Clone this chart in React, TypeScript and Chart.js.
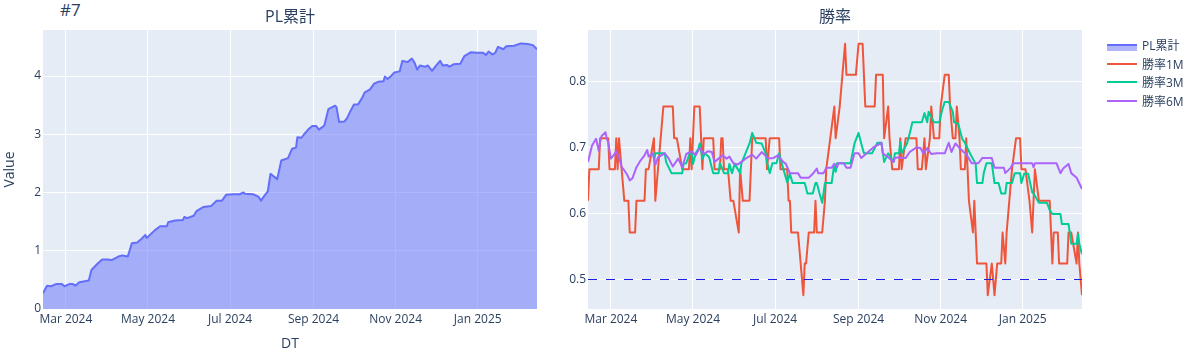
import React, { useEffect, useRef } from "react";
import { Chart, registerables } from "chart.js";

Chart.register(...registerables);

// ---------- data ----------
const xRange = ["2024-02-13", "2025-02-14"];
const xTickDates = ["2024-03-01", "2024-05-01", "2024-07-01", "2024-09-01", "2024-11-01", "2025-01-01"];
const xTickLabels = ["Mar 2024", "May 2024", "Jul 2024", "Sep 2024", "Nov 2024", "Jan 2025"];
const plTicks = [0, 1, 2, 3, 4];
const wrTicks = [0.5, 0.6, 0.7, 0.8];
const threshold = 0.5;

const plDates = [
  "2024-02-13", "2024-02-16", "2024-02-19", "2024-02-23", "2024-02-27", "2024-02-29", "2024-03-04", "2024-03-06",
  "2024-03-08", "2024-03-11", "2024-03-18", "2024-03-20", "2024-03-25", "2024-03-28", "2024-04-01", "2024-04-04",
  "2024-04-09", "2024-04-12", "2024-04-16", "2024-04-19", "2024-04-23", "2024-04-26", "2024-04-29", "2024-04-30",
  "2024-05-06", "2024-05-10", "2024-05-15", "2024-05-16", "2024-05-21", "2024-05-27", "2024-05-28", "2024-05-30",
  "2024-06-04", "2024-06-06", "2024-06-11", "2024-06-17", "2024-06-21", "2024-06-25", "2024-06-28", "2024-07-03",
  "2024-07-08", "2024-07-11", "2024-07-12", "2024-07-18", "2024-07-22", "2024-07-24", "2024-07-26", "2024-07-29",
  "2024-07-31", "2024-08-05", "2024-08-08", "2024-08-13", "2024-08-16", "2024-08-19", "2024-08-20", "2024-08-23",
  "2024-08-25", "2024-08-28", "2024-08-31", "2024-09-03", "2024-09-05", "2024-09-09", "2024-09-12", "2024-09-17",
  "2024-09-18", "2024-09-20", "2024-09-24", "2024-09-26", "2024-09-28", "2024-10-01", "2024-10-04", "2024-10-07",
  "2024-10-09", "2024-10-13", "2024-10-16", "2024-10-19", "2024-10-23", "2024-10-24", "2024-10-26", "2024-10-29",
  "2024-10-31", "2024-11-04", "2024-11-06", "2024-11-10", "2024-11-13", "2024-11-15", "2024-11-17", "2024-11-19",
  "2024-11-23", "2024-11-25", "2024-11-28", "2024-12-01", "2024-12-04", "2024-12-06", "2024-12-09", "2024-12-11",
  "2024-12-14", "2024-12-19", "2024-12-22", "2024-12-27", "2024-12-31", "2025-01-05", "2025-01-07", "2025-01-09",
  "2025-01-12", "2025-01-14", "2025-01-16", "2025-01-20", "2025-01-22", "2025-01-28", "2025-02-02", "2025-02-07",
  "2025-02-11", "2025-02-14",
];
const plValues = [
  0.27, 0.40, 0.39, 0.43, 0.43, 0.39, 0.43, 0.43,
  0.40, 0.46, 0.49, 0.67, 0.79, 0.85, 0.85, 0.84,
  0.90, 0.92, 0.90, 1.13, 1.14, 1.20, 1.27, 1.22,
  1.35, 1.42, 1.42, 1.49, 1.52, 1.53, 1.58, 1.56,
  1.60, 1.68, 1.75, 1.77, 1.86, 1.86, 1.96, 1.97,
  1.97, 2.00, 1.98, 1.97, 1.93, 1.86, 1.93, 2.02,
  2.32, 2.23, 2.55, 2.59, 2.75, 2.77, 2.95, 2.94,
  3.00, 3.08, 3.14, 3.14, 3.08, 3.15, 3.43, 3.49,
  3.47, 3.21, 3.22, 3.28, 3.38, 3.51, 3.51, 3.62,
  3.72, 3.77, 3.87, 3.90, 3.91, 3.99, 3.95, 4.01,
  4.06, 4.08, 4.26, 4.24, 4.30, 4.23, 4.11, 4.18,
  4.16, 4.18, 4.09, 4.18, 4.26, 4.18, 4.19, 4.16,
  4.20, 4.21, 4.34, 4.41, 4.40, 4.40, 4.36, 4.42,
  4.37, 4.40, 4.50, 4.46, 4.51, 4.52, 4.56, 4.55,
  4.53, 4.46,
];

const wr1mDates = [
  "2024-02-13", "2024-02-14", "2024-02-21", "2024-02-22", "2024-02-28", "2024-02-29", "2024-03-04", "2024-03-05",
  "2024-03-06", "2024-03-07", "2024-03-11", "2024-03-14", "2024-03-15", "2024-03-19", "2024-03-20", "2024-03-26",
  "2024-03-27", "2024-03-29", "2024-04-02", "2024-04-03", "2024-04-05", "2024-04-07", "2024-04-09", "2024-04-16",
  "2024-04-17", "2024-04-19", "2024-04-23", "2024-04-28", "2024-04-29", "2024-04-30", "2024-05-02", "2024-05-06",
  "2024-05-08", "2024-05-09", "2024-05-16", "2024-05-17", "2024-05-21", "2024-05-22", "2024-05-23", "2024-05-24",
  "2024-05-27", "2024-05-29", "2024-05-31", "2024-06-04", "2024-06-05", "2024-06-07", "2024-06-12", "2024-06-14",
  "2024-06-24", "2024-06-25", "2024-06-27", "2024-07-04", "2024-07-05", "2024-07-10", "2024-07-11", "2024-07-12",
  "2024-07-13", "2024-07-18", "2024-07-20", "2024-07-22", "2024-07-23", "2024-07-24", "2024-07-26", "2024-07-30",
  "2024-07-31", "2024-08-01", "2024-08-05", "2024-08-07", "2024-08-08", "2024-08-11", "2024-08-14", "2024-08-15",
  "2024-08-18", "2024-08-20", "2024-08-22", "2024-08-23", "2024-08-30", "2024-09-01", "2024-09-04", "2024-09-06",
  "2024-09-13", "2024-09-14", "2024-09-19", "2024-09-20", "2024-09-23", "2024-09-24", "2024-09-26", "2024-10-01",
  "2024-10-02", "2024-10-03", "2024-10-06", "2024-10-14", "2024-10-15", "2024-10-18", "2024-10-20", "2024-10-21",
  "2024-10-24", "2024-10-25", "2024-10-27", "2024-10-31", "2024-11-01", "2024-11-04", "2024-11-07", "2024-11-08",
  "2024-11-10", "2024-11-12", "2024-11-13", "2024-11-15", "2024-11-16", "2024-11-19", "2024-11-20", "2024-11-22",
  "2024-11-25", "2024-11-26", "2024-11-28", "2024-12-05", "2024-12-06", "2024-12-09", "2024-12-11", "2024-12-13",
  "2024-12-16", "2024-12-17", "2024-12-19", "2024-12-20", "2024-12-22", "2024-12-24", "2024-12-27", "2024-12-30",
  "2024-12-31", "2025-01-03", "2025-01-06", "2025-01-08", "2025-01-10", "2025-01-13", "2025-01-21", "2025-01-22",
  "2025-01-23", "2025-01-24", "2025-01-27", "2025-01-28", "2025-02-03", "2025-02-04", "2025-02-06", "2025-02-10",
  "2025-02-11", "2025-02-12", "2025-02-14",
];
const wr1mValues = [
  0.619, 0.667, 0.667, 0.714, 0.714, 0.667, 0.667, 0.714,
  0.667, 0.714, 0.619, 0.619, 0.571, 0.571, 0.619, 0.619,
  0.667, 0.667, 0.714, 0.619, 0.667, 0.714, 0.762, 0.762,
  0.714, 0.714, 0.667, 0.667, 0.714, 0.667, 0.762, 0.762,
  0.667, 0.714, 0.714, 0.667, 0.667, 0.714, 0.714, 0.667,
  0.667, 0.619, 0.619, 0.571, 0.667, 0.619, 0.619, 0.714,
  0.714, 0.667, 0.714, 0.714, 0.667, 0.667, 0.619, 0.619,
  0.571, 0.571, 0.524, 0.476, 0.524, 0.524, 0.571, 0.571,
  0.619, 0.571, 0.571, 0.619, 0.667, 0.714, 0.762, 0.714,
  0.762, 0.810, 0.857, 0.810, 0.810, 0.857, 0.857, 0.762,
  0.762, 0.810, 0.810, 0.714, 0.762, 0.714, 0.667, 0.667,
  0.714, 0.667, 0.714, 0.714, 0.667, 0.667, 0.714, 0.667,
  0.714, 0.762, 0.714, 0.714, 0.762, 0.810, 0.810, 0.762,
  0.714, 0.714, 0.762, 0.714, 0.667, 0.667, 0.714, 0.619,
  0.571, 0.619, 0.524, 0.524, 0.476, 0.524, 0.476, 0.524,
  0.524, 0.571, 0.524, 0.571, 0.619, 0.667, 0.714, 0.714,
  0.667, 0.667, 0.619, 0.571, 0.667, 0.619, 0.619, 0.571,
  0.524, 0.571, 0.571, 0.524, 0.524, 0.571, 0.571, 0.524,
  0.571, 0.524, 0.476,
];

const wr3mDates = [
  "2024-04-02", "2024-04-03", "2024-04-10", "2024-04-11", "2024-04-15", "2024-04-23", "2024-04-24", "2024-04-26",
  "2024-04-28", "2024-04-30", "2024-05-01", "2024-05-03", "2024-05-05", "2024-05-06", "2024-05-08", "2024-05-10",
  "2024-05-13", "2024-05-16", "2024-05-20", "2024-05-21", "2024-05-24", "2024-05-27", "2024-05-28", "2024-05-30",
  "2024-06-01", "2024-06-05", "2024-06-06", "2024-06-09", "2024-06-12", "2024-06-14", "2024-06-17", "2024-06-21",
  "2024-06-24", "2024-06-25", "2024-06-27", "2024-06-29", "2024-07-02", "2024-07-04", "2024-07-06", "2024-07-08",
  "2024-07-10", "2024-07-12", "2024-07-14", "2024-07-18", "2024-07-23", "2024-07-25", "2024-07-29", "2024-07-31",
  "2024-08-01", "2024-08-03", "2024-08-05", "2024-08-07", "2024-08-12", "2024-08-14", "2024-08-15", "2024-08-16",
  "2024-08-26", "2024-08-29", "2024-09-01", "2024-09-03", "2024-09-05", "2024-09-11", "2024-09-15", "2024-09-18",
  "2024-09-20", "2024-09-23", "2024-09-27", "2024-09-28", "2024-10-01", "2024-10-02", "2024-10-03", "2024-10-07",
  "2024-10-09", "2024-10-11", "2024-10-18", "2024-10-20", "2024-10-22", "2024-10-23", "2024-10-27", "2024-10-31",
  "2024-11-02", "2024-11-04", "2024-11-07", "2024-11-10", "2024-11-11", "2024-11-14", "2024-11-17", "2024-11-19",
  "2024-11-23", "2024-11-27", "2024-11-28", "2024-12-02", "2024-12-03", "2024-12-05", "2024-12-09", "2024-12-11",
  "2024-12-14", "2024-12-16", "2024-12-19", "2024-12-20", "2024-12-24", "2024-12-26", "2024-12-30", "2024-12-31",
  "2025-01-02", "2025-01-05", "2025-01-08", "2025-01-09", "2025-01-13", "2025-01-19", "2025-01-21", "2025-01-23",
  "2025-01-29", "2025-01-30", "2025-02-04", "2025-02-06", "2025-02-10", "2025-02-11", "2025-02-12", "2025-02-14",
];
const wr3mValues = [
  0.680, 0.691, 0.691, 0.678, 0.661, 0.661, 0.675, 0.676,
  0.688, 0.693, 0.675, 0.691, 0.698, 0.706, 0.683, 0.691,
  0.685, 0.661, 0.661, 0.676, 0.661, 0.661, 0.675, 0.661,
  0.675, 0.661, 0.676, 0.691, 0.706, 0.722, 0.707, 0.706,
  0.691, 0.678, 0.661, 0.676, 0.676, 0.691, 0.675, 0.661,
  0.647, 0.660, 0.646, 0.646, 0.646, 0.630, 0.630, 0.646,
  0.646, 0.630, 0.616, 0.646, 0.646, 0.675, 0.663, 0.676,
  0.676, 0.706, 0.722, 0.706, 0.691, 0.691, 0.707, 0.707,
  0.678, 0.691, 0.678, 0.691, 0.691, 0.708, 0.691, 0.706,
  0.721, 0.738, 0.738, 0.752, 0.738, 0.754, 0.738, 0.738,
  0.756, 0.769, 0.769, 0.754, 0.738, 0.736, 0.713, 0.707,
  0.690, 0.675, 0.646, 0.646, 0.661, 0.676, 0.676, 0.646,
  0.646, 0.630, 0.630, 0.646, 0.646, 0.661, 0.661, 0.646,
  0.660, 0.660, 0.632, 0.630, 0.616, 0.616, 0.605, 0.599,
  0.599, 0.584, 0.584, 0.554, 0.554, 0.569, 0.554, 0.538,
];

const wr6mDates = [
  "2024-02-13", "2024-02-16", "2024-02-19", "2024-02-21", "2024-02-22", "2024-02-23", "2024-02-26", "2024-02-27",
  "2024-02-28", "2024-03-01", "2024-03-03", "2024-03-05", "2024-03-07", "2024-03-09", "2024-03-11", "2024-03-13",
  "2024-03-15", "2024-03-17", "2024-03-20", "2024-03-23", "2024-03-26", "2024-03-28", "2024-03-29", "2024-04-01",
  "2024-04-03", "2024-04-05", "2024-04-10", "2024-04-13", "2024-04-16", "2024-04-20", "2024-04-23", "2024-04-26",
  "2024-04-30", "2024-05-03", "2024-05-06", "2024-05-09", "2024-05-12", "2024-05-15", "2024-05-17", "2024-05-20",
  "2024-05-23", "2024-05-26", "2024-05-28", "2024-05-31", "2024-06-03", "2024-06-06", "2024-06-09", "2024-06-14",
  "2024-06-17", "2024-06-21", "2024-06-26", "2024-06-30", "2024-07-03", "2024-07-07", "2024-07-09", "2024-07-12",
  "2024-07-18", "2024-07-20", "2024-07-26", "2024-07-29", "2024-08-01", "2024-08-02", "2024-08-06", "2024-08-08",
  "2024-08-12", "2024-08-14", "2024-08-16", "2024-08-17", "2024-08-21", "2024-08-23", "2024-08-26", "2024-08-29",
  "2024-09-01", "2024-09-03", "2024-09-07", "2024-09-12", "2024-09-18", "2024-09-19", "2024-09-23", "2024-09-27",
  "2024-09-28", "2024-10-01", "2024-10-03", "2024-10-06", "2024-10-09", "2024-10-14", "2024-10-17", "2024-10-19",
  "2024-10-22", "2024-10-25", "2024-10-29", "2024-11-04", "2024-11-07", "2024-11-09", "2024-11-12", "2024-11-15",
  "2024-11-18", "2024-11-20", "2024-11-24", "2024-11-29", "2024-12-02", "2024-12-09", "2024-12-11", "2024-12-18",
  "2024-12-19", "2024-12-23", "2024-12-25", "2025-01-08", "2025-01-09", "2025-01-10", "2025-01-26", "2025-01-29",
  "2025-01-31", "2025-02-04", "2025-02-06", "2025-02-10", "2025-02-14",
];
const wr6mValues = [
  0.678, 0.703, 0.713, 0.695, 0.708, 0.717, 0.723, 0.713,
  0.708, 0.683, 0.688, 0.694, 0.685, 0.670, 0.665, 0.659,
  0.650, 0.653, 0.670, 0.680, 0.688, 0.696, 0.686, 0.691,
  0.674, 0.685, 0.691, 0.683, 0.671, 0.683, 0.670, 0.690,
  0.694, 0.688, 0.699, 0.690, 0.694, 0.693, 0.678, 0.683,
  0.688, 0.683, 0.686, 0.676, 0.674, 0.678, 0.683, 0.689,
  0.683, 0.693, 0.683, 0.684, 0.688, 0.678, 0.675, 0.661,
  0.661, 0.654, 0.654, 0.660, 0.668, 0.661, 0.661, 0.669,
  0.669, 0.675, 0.670, 0.676, 0.676, 0.669, 0.669, 0.691,
  0.691, 0.684, 0.691, 0.700, 0.707, 0.691, 0.685, 0.678,
  0.684, 0.685, 0.684, 0.684, 0.693, 0.700, 0.699, 0.691,
  0.699, 0.690, 0.691, 0.691, 0.707, 0.693, 0.706, 0.699,
  0.693, 0.690, 0.676, 0.676, 0.684, 0.684, 0.669, 0.669,
  0.661, 0.669, 0.676, 0.676, 0.670, 0.676, 0.676, 0.661,
  0.668, 0.675, 0.661, 0.654, 0.637,
];

// ---------- styling ----------
const FONT_FAMILY = '"Open Sans", "Noto Sans CJK JP", "DejaVu Sans", sans-serif';
const TEXT_COLOR = "#2a3f5f";
const PLOT_BG = "#E5ECF6";
const GRID = "#ffffff";
const COLORS = { pl: "#636efa", m1: "#EF553B", m3: "#00CC96", m6: "#AB63FA" };

Chart.defaults.font.family = FONT_FAMILY;
Chart.defaults.color = TEXT_COLOR;

const dayOf = (iso: string) => {
  const [y, m, d] = iso.split("-").map(Number);
  return (Date.UTC(y, m - 1, d) - Date.UTC(2024, 0, 1)) / 86400000;
};
const toPoints = (dates: string[], values: number[]) => dates.map((d, i) => ({ x: dayOf(d), y: values[i] }));

const plotBgPlugin = {
  id: "plotBg",
  beforeDraw(chart: any) {
    const { ctx, chartArea } = chart;
    if (!chartArea) return;
    ctx.save();
    ctx.fillStyle = PLOT_BG;
    ctx.fillRect(chartArea.left, chartArea.top, chartArea.right - chartArea.left, chartArea.bottom - chartArea.top);
    ctx.restore();
  },
};

const thresholdPlugin = {
  id: "thresholdLine",
  afterDatasetsDraw(chart: any) {
    const { ctx, chartArea, scales } = chart;
    const py = Math.round(scales.y.getPixelForValue(threshold)) + 0.5;
    ctx.save();
    ctx.strokeStyle = "#1f1fe6";
    ctx.lineWidth = 1;
    ctx.setLineDash([9, 9]);
    ctx.beginPath();
    ctx.moveTo(chartArea.left, py);
    ctx.lineTo(chartArea.right, py);
    ctx.stroke();
    ctx.restore();
  },
};

const titleOpts = (text: string) => ({
  display: true,
  text,
  fullSize: false,
  color: TEXT_COLOR,
  font: { size: 16, weight: "normal" as const, family: FONT_FAMILY },
  padding: { top: 8, bottom: 2.8 },
});

const xScale = (title?: string) => ({
  type: "linear" as const,
  min: dayOf(xRange[0]),
  max: dayOf(xRange[1]),
  afterBuildTicks: (s: any) => {
    s.ticks = xTickDates.map((d) => ({ value: dayOf(d) }));
  },
  afterFit: (s: any) => {
    s.height = 51;
  },
  ticks: {
    autoSkip: false,
    maxRotation: 0,
    padding: 3,
    color: TEXT_COLOR,
    font: { size: 12 },
    callback: (v: any) => {
      const i = xTickDates.findIndex((d) => dayOf(d) === v);
      return i >= 0 ? xTickLabels[i] : "";
    },
  },
  grid: { color: GRID, lineWidth: 1, drawTicks: false },
  border: { display: false },
  title: title
    ? { display: true, text: title, color: TEXT_COLOR, font: { size: 14 }, padding: { top: 0, bottom: 7.6 } }
    : { display: false },
});

const yScale = (min: number, max: number, ticks: number[], width: number, title?: string) => ({
  type: "linear" as const,
  min,
  max,
  afterBuildTicks: (s: any) => {
    s.ticks = ticks.map((v) => ({ value: v }));
  },
  afterFit: (s: any) => {
    s.width = width;
  },
  ticks: { padding: 2, color: TEXT_COLOR, font: { size: 12 }, callback: (v: any) => String(v) },
  grid: { color: GRID, lineWidth: 1, drawTicks: false },
  border: { display: false },
  title: title
    ? { display: true, text: title, color: TEXT_COLOR, font: { size: 14 }, padding: { top: 2, bottom: 0 } }
    : { display: false },
});

function PlChart() {
  const ref = useRef<HTMLCanvasElement>(null);
  useEffect(() => {
    const chart = new Chart(ref.current as HTMLCanvasElement, {
      type: "line",
      data: {
        datasets: [
          {
            label: "PL累計",
            data: toPoints(plDates, plValues),
            borderColor: COLORS.pl,
            backgroundColor: "rgba(99,110,250,0.5)",
            fill: "origin",
            borderWidth: 2,
            pointRadius: 0,
            tension: 0,
            borderJoinStyle: "round",
          },
        ],
      },
      options: {
        animation: false,
        responsive: false,
        events: [],
        layout: { padding: { left: 0, right: 23, top: 0, bottom: 0 } },
        plugins: { legend: { display: false }, tooltip: { enabled: false }, title: titleOpts("PL累計") },
        scales: { x: xScale("DT"), y: yScale(0, 4.79, plTicks, 43, "Value") },
      } as any,
      plugins: [plotBgPlugin],
    });
    return () => chart.destroy();
  }, []);
  return <canvas ref={ref} width={560} height={360} style={{ position: "absolute", left: 0, top: 0 }} />;
}

function WinRateChart() {
  const ref = useRef<HTMLCanvasElement>(null);
  useEffect(() => {
    const common = { borderWidth: 2, pointRadius: 0, tension: 0, fill: false, borderJoinStyle: "round" };
    const chart = new Chart(ref.current as HTMLCanvasElement, {
      type: "line",
      data: {
        datasets: [
          { label: "勝率1M", data: toPoints(wr1mDates, wr1mValues), borderColor: COLORS.m1, order: 3, ...common },
          { label: "勝率3M", data: toPoints(wr3mDates, wr3mValues), borderColor: COLORS.m3, order: 2, ...common },
          { label: "勝率6M", data: toPoints(wr6mDates, wr6mValues), borderColor: COLORS.m6, order: 1, ...common },
        ],
      } as any,
      options: {
        animation: false,
        responsive: false,
        events: [],
        layout: { padding: { left: 0, right: 119, top: 0, bottom: 0 } },
        plugins: { legend: { display: false }, tooltip: { enabled: false }, title: titleOpts("勝率") },
        scales: { x: xScale(), y: yScale(0.455, 0.878, wrTicks, 28) },
      } as any,
      plugins: [plotBgPlugin, thresholdPlugin],
    });
    return () => chart.destroy();
  }, []);
  return <canvas ref={ref} width={641} height={360} style={{ position: "absolute", left: 560, top: 0 }} />;
}

const legendLabels = ["PL累計", "勝率1M", "勝率3M", "勝率6M"];
const legendColors = [COLORS.pl, COLORS.m1, COLORS.m3, COLORS.m6];

function Legend() {
  return (
    <div style={{ position: "absolute", left: 1107, top: 36, width: 94 }}>
      {legendLabels.map((label, i) => (
        <div
          key={label}
          style={{ position: "absolute", left: 0, top: i * 18.7, height: 18, display: "flex", alignItems: "center" }}
        >
          {i === 0 ? (
            <div
              style={{
                width: 30,
                height: 5,
                marginTop: 4,
                background: "rgba(99,110,250,0.5)",
                borderTop: `2px solid ${legendColors[i]}`,
              }}
            />
          ) : (
            <div style={{ width: 30, height: 2, background: legendColors[i] }} />
          )}
          <span style={{ marginLeft: 5, fontSize: 12, color: TEXT_COLOR, whiteSpace: "nowrap" }}>{label}</span>
        </div>
      ))}
    </div>
  );
}

export default function App() {
  return (
    <div
      style={{
        position: "absolute",
        left: 0,
        top: 0,
        width: 1201,
        height: 360,
        background: "#ffffff",
        fontFamily: FONT_FAMILY,
      }}
    >
      <div style={{ position: "absolute", left: 60, top: 0, fontSize: 17, lineHeight: "20px", color: TEXT_COLOR }}>
        #7
      </div>
      <PlChart />
      <WinRateChart />
      <Legend />
    </div>
  );
}
